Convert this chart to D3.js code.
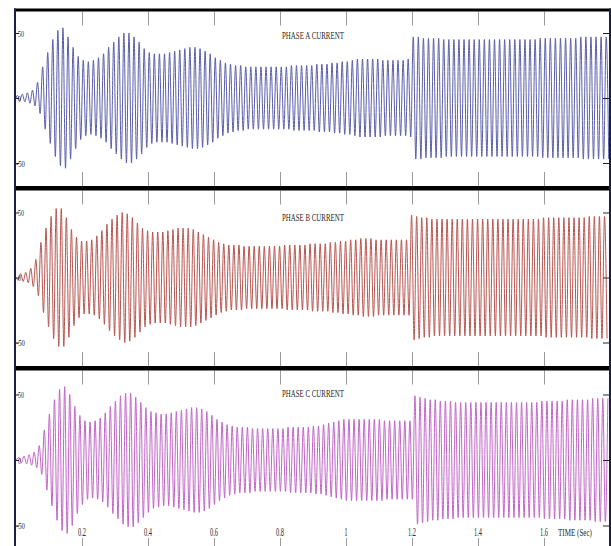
<!DOCTYPE html>
<html><head><meta charset="utf-8">
<script src="https://cdn.jsdelivr.net/npm/d3@7"></script>
<style>html,body{margin:0;padding:0;background:#fff;} svg{display:block;}</style>
</head><body><svg id="c" width="611" height="546"></svg>
<script>
// ---- data ----
const timeTicks = [0.2, 0.4, 0.6, 0.8, 1.0, 1.2, 1.4, 1.6];
const timeTickLabels = ["0.2", "0.4", "0.6", "0.8", "1", "1.2", "1.4", "1.6"];
const yTicks = [50, 0, -50];
const yTickLabels = ["50", "0", "-50"];
const panelTitles = ["PHASE A CURRENT", "PHASE B CURRENT", "PHASE C CURRENT"];
const xAxisTitle = "TIME (Sec)";
const timeRange = [0, 1.8];
const cyclesPerSecond = 65; // apparent oscillation rate read from peak spacing

// peak current of each cycle (A), one value per cycle
const peakA = [
  2, 3, 4, 6, 12, 24, 35, 45, 52, 54,
  47, 39, 32, 29, 28, 29, 31, 34, 39, 43,
  47, 50, 50, 47, 43, 38, 35, 34, 34, 34,
  35, 36, 37, 38, 39, 39, 38, 36, 34, 31,
  29, 27, 26, 25, 25, 24, 24, 24, 24, 24,
  24, 24, 24, 24, 25, 25, 25, 25, 25, 26,
  26, 26, 27, 27, 28, 28, 29, 30, 30, 30,
  30, 30, 29, 29, 29, 29, 29, 30, 47, 47,
  46, 46, 46, 46, 45, 45, 45, 45, 45, 45,
  45, 45, 45, 45, 45, 45, 45, 45, 45, 45,
  45, 45, 45, 46, 46, 46, 46, 46, 46, 46,
  46, 47, 47, 47, 47, 47, 47
];
const peakB = [
  2, 3, 4, 7, 14, 27, 38, 47, 53, 53,
  46, 37, 31, 28, 28, 29, 32, 36, 41, 45,
  48, 50, 49, 46, 42, 38, 36, 35, 35, 35,
  36, 37, 38, 38, 38, 37, 35, 33, 31, 29,
  27, 26, 25, 25, 25, 24, 24, 24, 24, 24,
  24, 24, 24, 25, 25, 25, 25, 25, 26, 26,
  26, 26, 27, 27, 28, 28, 29, 29, 30, 30,
  30, 29, 29, 29, 29, 29, 29, 29, 48, 47,
  46, 46, 45, 45, 45, 45, 45, 45, 45, 45,
  45, 45, 45, 45, 45, 45, 45, 45, 45, 45,
  45, 45, 45, 45, 46, 46, 46, 46, 46, 46,
  46, 46, 46, 47, 47, 47, 47
];
const peakC = [
  2, 3, 4, 6, 11, 23, 35, 46, 54, 56,
  50, 41, 34, 30, 29, 30, 32, 36, 41, 45,
  49, 51, 51, 48, 44, 40, 37, 36, 35, 35,
  36, 37, 38, 39, 40, 40, 39, 37, 34, 31,
  29, 27, 26, 25, 25, 25, 24, 24, 24, 24,
  24, 24, 24, 25, 25, 25, 25, 25, 26, 26,
  27, 28, 29, 30, 31, 31, 31, 31, 31, 31,
  31, 31, 30, 30, 30, 30, 30, 30, 49, 48,
  47, 46, 46, 45, 45, 45, 44, 44, 44, 44,
  44, 44, 44, 44, 44, 44, 44, 44, 44, 44,
  44, 44, 44, 45, 45, 45, 45, 45, 46, 46,
  46, 46, 46, 47, 47, 47, 47
];
const phaseOffsets = [0, -1/3, 1/3]; // fraction of a cycle

// ---- drawing ----
const svg = d3.select("#c");
const x = d3.scaleLinear().domain(timeRange).range([16, 610]);
const P = 1 / cyclesPerSecond;

const panels = [
  {peaks: peakA, color: "#5a5da8", top: 11.5, bottom: 186, yr: [163, 33], titleY: 38.5},
  {peaks: peakB, color: "#b8544f", top: 190.5, bottom: 366, yr: [342.5, 212.5], titleY: 221},
  {peaks: peakC, color: "#c264c8", top: 370.5, bottom: 552, yr: [525.5, 394.5], titleY: 396.5}
];

function condensedText(sel, txt, xx, yy, size, width, anchor) {
  // draw text at natural size then squeeze horizontally to the measured width
  const t = sel.append("text").attr("font-family", "Liberation Serif")
    .attr("font-size", size).attr("fill", "#2a2a2a").text(txt);
  const w = t.node().getComputedTextLength();
  const s = width / w;
  const x0 = anchor === "middle" ? xx - width / 2 : xx;
  t.attr("transform", `translate(${x0},${yy}) scale(${s},1)`);
  return t;
}

panels.forEach((p, i) => {
  const y = d3.scaleLinear().domain([-50, 50]).range(p.yr);
  const g = svg.append("g");
  const clipId = "clip" + i;
  svg.append("clipPath").attr("id", clipId).append("rect")
    .attr("x", 16).attr("y", p.top).attr("width", 594).attr("height", p.bottom - p.top);

  // waveform: alternating positive / negative peaks of each cycle
  const pts = [[0, 0]];
  p.peaks.forEach((a, k) => {
    const t1 = (k + 0.25 + phaseOffsets[i]) * P;
    const t2 = (k + 0.75 + phaseOffsets[i]) * P;
    if (t1 > 0 && t1 <= timeRange[1]) pts.push([t1, a]);
    if (t2 > 0 && t2 <= timeRange[1]) pts.push([t2, -a]);
  });
  const line = d3.line().x(d => x(d[0])).y(d => y(d[1])).curve(d3.curveMonotoneX);
  g.append("path").attr("d", line(pts)).attr("clip-path", `url(#${clipId})`)
    .attr("fill", "none").attr("stroke", p.color).attr("stroke-width", 1);

  // top & bottom time ticks (gray, pointing inward)
  const topAx = svg.append("g").attr("transform", `translate(0,${p.top})`)
    .call(d3.axisTop(x).tickValues(timeTicks).tickSize(-14).tickFormat(""));
  const botAx = svg.append("g").attr("transform", `translate(0,${p.bottom})`)
    .call(d3.axisBottom(x).tickValues(timeTicks).tickSize(-14).tickFormat(""));
  [topAx, botAx].forEach(a => {
    a.select(".domain").remove();
    a.selectAll("line").attr("stroke", "#9a9a9a").attr("stroke-width", 1);
  });

  // left ticks with labels
  const leftAx = svg.append("g").attr("transform", "translate(15,0)")
    .call(d3.axisRight(y).tickValues(yTicks).tickSize(4).tickFormat(""));
  leftAx.select(".domain").remove();
  leftAx.selectAll("line").attr("stroke", "#222");
  yTicks.forEach((v, j) => {
    const lbl = yTickLabels[j];
    condensedText(svg, lbl, lbl.length === 3 ? 16 : 18, y(v) + 3.5, 9, lbl.length * 3, "start");
  });

  // right ticks
  const rightAx = svg.append("g").attr("transform", "translate(609,0)")
    .call(d3.axisLeft(y).tickValues(yTicks).tickSize(6).tickFormat(""));
  rightAx.select(".domain").remove();
  rightAx.selectAll("line").attr("stroke", "#222");

  // title
  condensedText(svg, panelTitles[i], 282, p.titleY, 11, 62, "start");
});

// x tick labels at the bottom panel
timeTicks.forEach((t, j) => {
  const lbl = timeTickLabels[j];
  condensedText(svg, lbl, x(t), 536, 12, lbl.length === 1 ? 3 : 8, "middle");
});
condensedText(svg, xAxisTitle, 558, 536, 11, 34, "start");

// frame: thick black separators, dark side borders
[[8.5, 3], [186, 4.5], [366, 4.5]].forEach(([yy, h]) => {
  svg.append("rect").attr("x", 14).attr("y", yy).attr("width", 597).attr("height", h).attr("fill", "#000");
});
svg.append("line").attr("x1", 15).attr("x2", 15).attr("y1", 8.5).attr("y2", 546)
  .attr("stroke", "#1b1f4b").attr("stroke-width", 2);
svg.append("line").attr("x1", 610).attr("x2", 610).attr("y1", 8.5).attr("y2", 546)
  .attr("stroke", "#1b1f4b").attr("stroke-width", 2);
</script>
</body></html>
